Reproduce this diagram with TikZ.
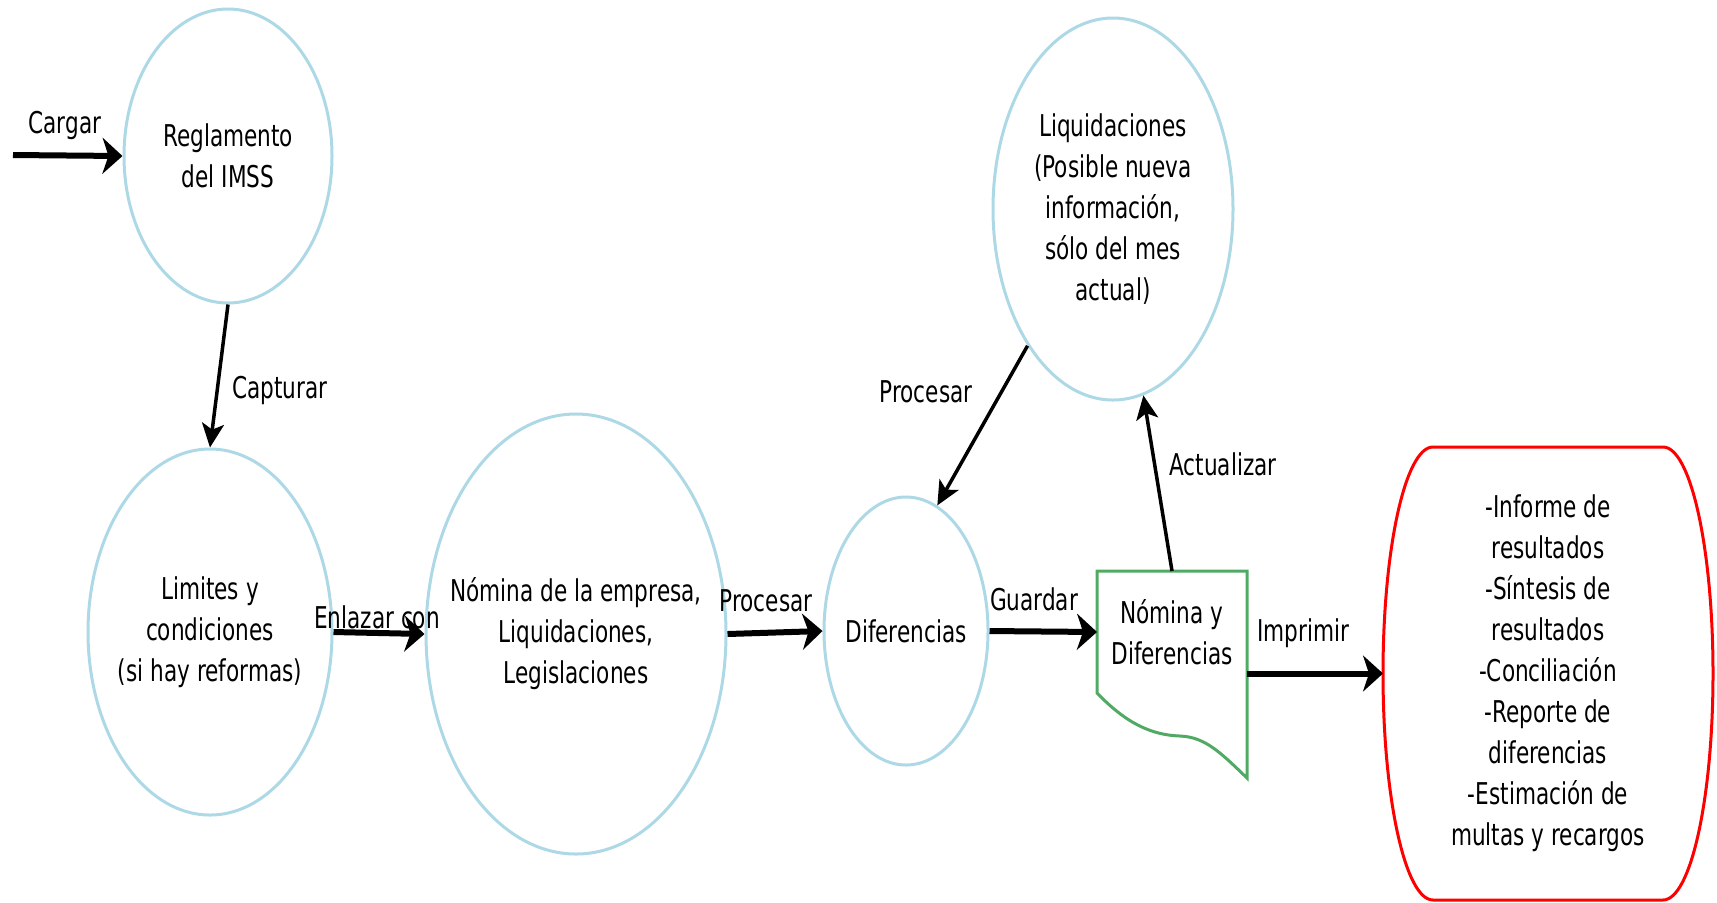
\documentclass[tikz,border=0pt]{standalone}
\usepackage{fontspec}
\setmainfont[FakeStretch=0.72]{DejaVu Sans}
\usepackage{xcolor}
\usetikzlibrary{shapes.geometric, arrows.meta}

\definecolor{procblue}{RGB}{173,216,230}
\definecolor{docgreen}{RGB}{80,170,100}

\tikzset{
  proceso/.style={ellipse, draw=procblue, line width=1.5pt, inner sep=-14pt, align=center},
  flecha/.style={line width=3pt, -{Stealth[length=10pt, width=18pt, inset=3pt]}},
  flechad/.style={line width=1.75pt, -{Stealth[length=12pt, width=11pt, inset=3pt]}},
  etiqueta/.style={inner sep=0pt},
}

\begin{document}
\begin{tikzpicture}[x=0.5pt, y=-0.5pt, font=\fontsize{15}{20.5}\selectfont]
			\useasboundingbox (0,0) rectangle (1717,902);
			
			% Processes
			\node[proceso, minimum width=104pt, minimum height=147pt] (regla) at (228,156) {Reglamento\\del IMSS};
			\node[proceso, minimum width=122pt, minimum height=183pt] (limites) at (210,632) {Limites y\\condiciones\\(si hay reformas)};
			\node[proceso, minimum width=150pt, minimum height=220pt] (nomina) at (576,634) {Nómina de la empresa,\\Liquidaciones,\\Legislaciones};
			\node[proceso, minimum width=82pt, minimum height=134pt] (dif) at (906,631) {Diferencias};
			\node[proceso, minimum width=120pt, minimum height=191pt] (liq) at (1113,209) {Liquidaciones\\(Posible nueva\\información,\\sólo del mes\\actual)};
			
			% Document
			\node[inner sep=0pt, outer sep=0pt, minimum width=75pt, minimum height=61pt, align=center] (doc) at (1172,632) {Nómina y\\Diferencias};
			\draw[docgreen, line width=1.5pt] (doc.south west) -- (doc.north west) -- (doc.north east) -- (1247,778)
				.. controls (1220,752) and (1205,737) .. (1180,736)
				.. controls (1150,735) and (1125,722) .. (doc.south west) -- cycle;
			
			% Results
			\node[inner sep=0pt, outer sep=0pt, minimum width=165pt, minimum height=226.5pt, align=center] (res) at (1548,673.5) {-Informe de\\resultados\\-Síntesis de\\resultados\\-Conciliación\\-Reporte de\\diferencias\\-Estimación de\\multas y recargos};
			\draw[red, line width=1.5pt] (1433,447) -- (1663,447)
				.. controls (1690.6,447) and (1713,548.4) .. (1713,673.5)
				.. controls (1713,798.6) and (1690.6,900) .. (1663,900) -- (1433,900)
				.. controls (1405.4,900) and (1383,798.6) .. (1383,673.5)
				.. controls (1383,548.4) and (1405.4,447) .. (1433,447) -- cycle;
			
			% Arrows
			\coordinate (inicio) at (13,155);
			\draw[flecha] (inicio) -- (regla.west);
			\draw[flechad] (regla.south) -- (limites.north);
			\draw[flecha] (limites.east) -- (nomina.west);
			\draw[flecha] (nomina.east) -- (dif.west);
			\draw[flechad] (liq.238) -- (dif.76);
			\draw[flecha] (dif.east) -- (doc.west);
			\draw[flechad] (doc.north) -- (liq);
			\draw[flecha] (doc.east |- res.west) -- (res.west);
			
			% Labels
			\node[etiqueta] (lcargar) at (65,125) {Cargar};
			\node[etiqueta] (lcapturar) at (280,390) {Capturar};
			\node[etiqueta] (lenlazar) at (377,617) {Enlazar con};
			\node[etiqueta] (lprocesar) at (766,601) {Procesar};
			\node[etiqueta] (lprocesard) at (926,392) {Procesar};
			\node[etiqueta] (lguardar) at (1034,599) {Guardar};
			\node[etiqueta] (lactualizar) at (1223,464) {Actualizar};
			\node[etiqueta] (limprimir) at (1303,633) {Imprimir};
		\end{tikzpicture}
\end{document}
